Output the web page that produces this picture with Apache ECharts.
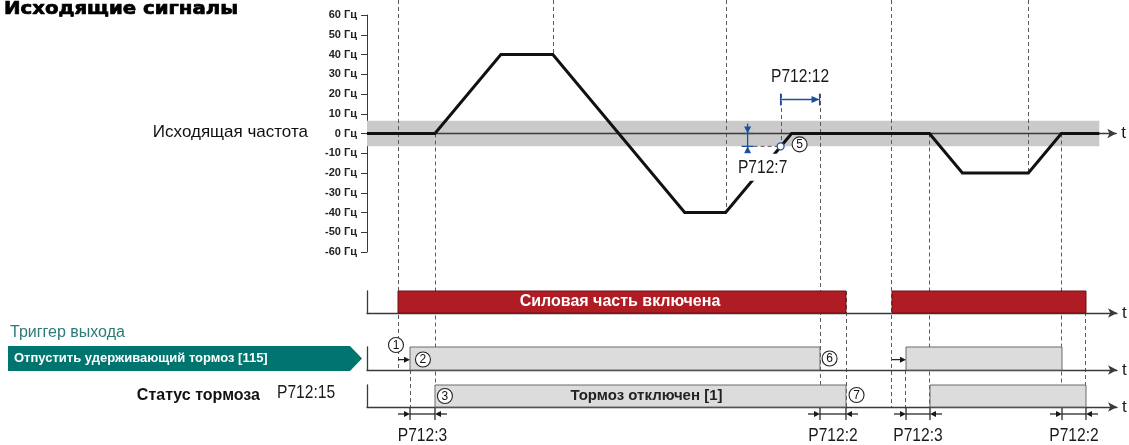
<!DOCTYPE html>
<html lang="ru">
<head>
<meta charset="utf-8">
<title>Исходящие сигналы</title>
<script src="https://cdn.jsdelivr.net/npm/echarts@6/dist/echarts.min.js"></script>
<style>
html,body{margin:0;padding:0;background:#ffffff;}
#chart{width:1129px;height:445px;}
</style>
</head>
<body>
<div id="chart"></div>
<script>
// ---- signal data: time on one shared axis (arbitrary units) ----
const timeMax = 75.0;
const freqTime = [0, 6.8, 13.4, 18.6, 31.8, 35.9, 42.5, 56.3, 59.6, 66.2, 69.5, 73.3];
const freqHz   = [0, 0, 40, 40, -40, -40, 0, 0, -20, -20, 0, 0];
const freqMin = -60, freqMax = 60, freqStep = 10;
const freqUnit = 'Гц';
const stopThresholdHz = 6.5;   // P712:7 window around 0 Hz
const stopDetectT = 41.4;      // output frequency enters the P712:7 window
const stopHoldEndT = 45.3;     // P712:12 elapsed
const bandEndT = 73.3;

const powerOn    = [[3.1, 47.9], [52.5, 71.9]];
const releaseOut = [[4.3, 45.3], [53.9, 69.5]];
const brakeOpen  = [[6.8, 47.9], [56.3, 71.9]];
const releaseCmdT = [3.1, 52.5];
const timings     = [[4.3, 6.8], [45.3, 47.9], [53.9, 56.3], [69.5, 71.9]];
const timingNames = ['P712:3', 'P712:2', 'P712:3', 'P712:2'];

// ---- layout ----
const LEFT = 367, RIGHT = 1129 - 367 - 750;
const LANES = {
  freq:  {top: 15,  height: 237},
  power: {top: 291, height: 22},
  trig:  {top: 347, height: 23},
  brake: {top: 385, height: 22},
  meas:  {top: 408, height: 12}
};
const laneOrder = ['freq', 'power', 'trig', 'brake', 'meas'];
const gi = k => laneOrder.indexOf(k);

const INK = '#1a1a1a';
const AXIS = '#3a3a3a';
const BLUE = '#1f4f9c';
const GUIDE = '#5a5a5a';
const RED = '#b01c23';
const BOX = '#dcdcdc';
const FONT = '"Liberation Sans", Arial, sans-serif';

function laneY(api, lane, v) {
  if (lane === 'top') return 0;
  if (lane === 'freq') return api.coord([0, v])[1];
  const L = LANES[lane];
  return L.top + L.height * (1 - v);
}
function head(tx, ty, dx, dy, len, half, color) {
  const nx = -dy, ny = dx, bx = tx - dx * len, by = ty - dy * len;
  return {type: 'polygon', shape: {points: [[tx, ty], [bx + nx * half, by + ny * half], [bx - nx * half, by - ny * half]]}, style: {fill: color}};
}
function seg(x1, y1, x2, y2, color, w, dash) {
  return {type: 'line', shape: {x1, y1, x2, y2}, style: {stroke: color, lineWidth: w || 1, lineDash: dash || null}};
}
function narrow(x, y, text, extra) {
  return {type: 'text', x, y, scaleX: 0.82, z2: 10,
    style: Object.assign({text, fontSize: 19, fontFamily: FONT, fill: INK, align: 'center', verticalAlign: 'middle'}, extra || {})};
}
function measure(text, font) {
  const c = document.createElement('canvas').getContext('2d');
  c.font = font; return c.measureText(text).width;
}

// dashed event guides: time and the two levels they connect
const guides = [
  {t: releaseCmdT[0],  a: ['top', 0],    b: ['trig', 0]},
  {t: releaseOut[0][0], a: ['trig', 0],  b: ['brake', 0]},
  {t: brakeOpen[0][0], a: ['freq', 0],   b: ['brake', 0]},
  {t: freqTime[3],     a: ['top', 0],    b: ['freq', freqHz[3]]},
  {t: freqTime[5],     a: ['top', 0],    b: ['freq', freqHz[5]]},
  {t: stopDetectT,     a: ['freq', 20],  b: ['freq', -stopThresholdHz]},
  {t: stopHoldEndT,    a: ['freq', 20],  b: ['brake', 0]},
  {t: powerOn[0][1],   a: ['power', 1],  b: ['brake', 0]},
  {t: releaseCmdT[1],  a: ['top', 0],    b: ['brake', 0]},
  {t: releaseOut[1][0], a: ['trig', 0],  b: ['brake', 0]},
  {t: brakeOpen[1][0], a: ['freq', 0],   b: ['brake', 0]},
  {t: freqTime[9],     a: ['top', 0],    b: ['freq', freqHz[9]]},
  {t: releaseOut[1][1], a: ['freq', 0],  b: ['brake', 0]},
  {t: powerOn[1][1],   a: ['power', 1],  b: ['brake', 0]}
];

// circled step numbers, anchored to their events
const notes = [
  {n: '1', t: releaseCmdT[0],    lane: 'trig',  v: 1,    dx: -2, dy: -2},
  {n: '2', t: releaseOut[0][0],  lane: 'trig',  v: 0.5,  dx: 13, dy: 1},
  {n: '3', t: brakeOpen[0][0],   lane: 'brake', v: 0.5,  dx: 10, dy: 0},
  {n: '5', t: stopDetectT,       lane: 'freq',  v: -stopThresholdHz, dx: 19, dy: -2},
  {n: '6', t: releaseOut[0][1],  lane: 'trig',  v: 0.5,  dx: 10, dy: 0},
  {n: '7', t: powerOn[0][1],     lane: 'brake', v: 0.5,  dx: 11, dy: -1}
];

const chart = echarts.init(document.getElementById('chart'));

const grids = laneOrder.map(k => ({left: LEFT, right: RIGHT, top: LANES[k].top, height: LANES[k].height}));

const xAxes = laneOrder.map((k, i) => ({
  type: 'value', gridIndex: i, min: 0, max: timeMax, z: 3,
  axisLine: {show: k !== 'meas', onZero: true, symbol: ['none', 'arrow'], symbolSize: [7, 9],
    lineStyle: {color: AXIS, width: 1.3}},
  axisTick: {show: false}, axisLabel: {show: false}, splitLine: {show: false},
  name: k !== 'meas' ? 't' : '', nameLocation: 'end', nameGap: 5,
  nameTextStyle: {fontSize: 17, fontFamily: FONT, color: INK, align: 'left', verticalAlign: 'middle', padding: [10, 0, 0, 0]}
}));

const yAxes = laneOrder.map((k, i) => k === 'freq' ? {
  type: 'value', gridIndex: i, min: freqMin, max: freqMax, interval: freqStep,
  axisLine: {show: true, onZero: false, lineStyle: {color: AXIS, width: 1}},
  axisTick: {show: true, length: 6, lineStyle: {color: AXIS}},
  axisLabel: {formatter: v => v + ' ' + freqUnit, fontSize: 11, fontWeight: 'bold', fontFamily: FONT, color: '#222', margin: 10},
  splitLine: {show: false}
} : {
  type: 'value', gridIndex: i, min: 0, max: 1,
  axisLine: {show: k !== 'meas', onZero: false, lineStyle: {color: AXIS, width: 1.3}},
  axisTick: {show: false}, axisLabel: {show: false}, splitLine: {show: false}
});

function boxSeries(lane, data, fill, stroke, labels, labelStyle) {
  return {
    type: 'custom', xAxisIndex: gi(lane), yAxisIndex: gi(lane), z: 4,
    data: data.map(d => [d[0], d[1]]),
    renderItem: (params, api) => {
      const p0 = api.coord([api.value(0), 1]);
      const p1 = api.coord([api.value(1), 0]);
      const ch = [{type: 'rect', shape: {x: p0[0], y: p0[1], width: p1[0] - p0[0], height: p1[1] - p0[1]},
        style: {fill, stroke, lineWidth: 1}}];
      const txt = labels[params.dataIndex];
      if (txt) ch.push({type: 'text', x: (p0[0] + p1[0]) / 2 + (labelStyle.dx || 0), y: (p0[1] + p1[1]) / 2,
        style: Object.assign({text: txt, align: 'center', verticalAlign: 'middle', fontFamily: FONT, fontWeight: 'bold'}, labelStyle.style)});
      return {type: 'group', children: ch};
    }
  };
}

const series = [
  // P712:7 window around zero frequency
  {
    type: 'custom', xAxisIndex: 0, yAxisIndex: 0, z: 1, silent: true,
    data: [[0, bandEndT]],
    renderItem: (params, api) => {
      const p0 = api.coord([api.value(0), stopThresholdHz]);
      const p1 = api.coord([api.value(1), -stopThresholdHz]);
      return {type: 'rect', shape: {x: p0[0], y: p0[1], width: p1[0] - p0[0], height: p1[1] - p0[1]}, style: {fill: '#c9cac9'}};
    }
  },
  // dashed event guides
  {
    type: 'custom', xAxisIndex: 0, yAxisIndex: 0, z: 2, clip: false, silent: true,
    data: guides.map(g => [g.t, 0]),
    renderItem: (params, api) => {
      const g = guides[params.dataIndex];
      const x = Math.round(api.coord([g.t, 0])[0]) + 0.5;
      return seg(x, laneY(api, g.a[0], g.a[1]), x, laneY(api, g.b[0], g.b[1]), GUIDE, 1, [4, 3]);
    }
  },
  // output frequency
  {
    type: 'line', xAxisIndex: 0, yAxisIndex: 0, z: 5, symbol: 'none', silent: true,
    data: freqTime.map((t, i) => [t, freqHz[i]]),
    lineStyle: {color: '#111', width: 3, join: 'miter'}
  },
  // P712:12 and P712:7 annotations
  {
    type: 'custom', xAxisIndex: 0, yAxisIndex: 0, z: 6, clip: false, silent: true,
    data: [[stopDetectT, -stopThresholdHz]],
    renderItem: (params, api) => {
      const pc = api.coord([stopDetectT, -stopThresholdHz]);
      const pe = api.coord([stopHoldEndT, 0]);
      const y0 = api.coord([0, 0])[1];
      const y1 = pc[1];
      const xa = pc[0], xb = pe[0];
      const ym = y0 - 34;
      const xv = xa - 33;
      const ch = [
        // P712:12 delay bracket
        seg(xa, ym - 6, xa, ym + 6, BLUE, 1.3),
        seg(xb, ym - 6, xb, ym + 6, BLUE, 1.3),
        seg(xa, ym, xb - 6, ym, BLUE, 1.3),
        head(xb, ym, 1, 0, 8, 3.5, BLUE),
        narrow((xa + xb) / 2, ym - 23, 'P712:12'),
        // P712:7 threshold bracket
        seg(xv - 6, y0, xv + 6, y0, BLUE, 1.3),
        seg(xv - 6, y1, xv + 6, y1, BLUE, 1.3),
        seg(xv, y0 - 10, xv, y1 + 6, BLUE, 1.3),
        head(xv, y0, 0, 1, 7, 3.5, BLUE),
        head(xv, y1, 0, -1, 7, 3.5, BLUE),
        seg(xv + 6, y1, xa - 3, y1, GUIDE, 1, [4, 3]),
        narrow(xv + 15, y1 + 21, 'P712:7', {backgroundColor: '#ffffff', padding: [4, 1]}),
        {type: 'circle', shape: {cx: xa, cy: y1, r: 3.5}, style: {fill: '#fff', stroke: BLUE, lineWidth: 1.3}, z2: 11}
      ];
      return {type: 'group', children: ch};
    }
  },
  // power section on
  boxSeries('power', powerOn, RED, '#6e1015', ['Силовая часть включена', ''],
    {dx: -2, style: {fill: '#ffffff', fontSize: 16}}),
  // release holding brake output
  boxSeries('trig', releaseOut, BOX, '#6a6a6a', ['', ''], {style: {}}),
  // brake status
  boxSeries('brake', brakeOpen, BOX, '#6a6a6a', ['Тормоз отключен [1]', ''],
    {dx: 6, style: {fill: '#222', fontSize: 15}}),
  // command-to-output arrows
  {
    type: 'custom', xAxisIndex: gi('trig'), yAxisIndex: gi('trig'), z: 6, silent: true,
    data: releaseCmdT.map((t, i) => [t, releaseOut[i][0]]),
    renderItem: (params, api) => {
      const p0 = api.coord([api.value(0), 0.45]);
      const p1 = api.coord([api.value(1), 0.45]);
      return {type: 'group', children: [seg(p0[0], p0[1], p1[0] - 4, p1[1], INK, 1.2), head(p1[0], p1[1], 1, 0, 6, 3, INK)]};
    }
  },
  // timing parameters P712:3 / P712:2
  {
    type: 'custom', xAxisIndex: gi('meas'), yAxisIndex: gi('meas'), z: 6, clip: false, silent: true,
    data: timings.map(d => [d[0], d[1]]),
    renderItem: (params, api) => {
      const a = api.coord([api.value(0), 0.5]);
      const b = api.coord([api.value(1), 0.5]);
      const yt = api.coord([0, 1])[1], yb = api.coord([0, 0])[1];
      const y = a[1];
      return {type: 'group', children: [
        seg(a[0], yt, a[0], yb, INK, 1.2),
        seg(b[0], yt, b[0], yb, INK, 1.2),
        seg(a[0], y, b[0], y, INK, 1.2),
        seg(a[0] - 12, y, a[0] - 4, y, INK, 1.2),
        head(a[0], y, 1, 0, 6, 3, INK),
        seg(b[0] + 12, y, b[0] + 4, y, INK, 1.2),
        head(b[0], y, -1, 0, 6, 3, INK),
        narrow((a[0] + b[0]) / 2, yb + 16, timingNames[params.dataIndex])
      ]};
    }
  },
  // circled step numbers
  {
    type: 'custom', xAxisIndex: 0, yAxisIndex: 0, z: 7, clip: false, silent: true,
    data: notes.map(n => [n.t, 0]),
    renderItem: (params, api) => {
      const n = notes[params.dataIndex];
      const cx = api.coord([n.t, 0])[0] + n.dx;
      const cy = laneY(api, n.lane, n.v) + n.dy;
      return {type: 'group', children: [
        {type: 'circle', shape: {cx, cy, r: 7.5}, style: {fill: '#fff', stroke: '#222', lineWidth: 1.1}},
        {type: 'text', x: cx, y: cy + 0.5, style: {text: n.n, fontSize: 12, fontFamily: FONT, fill: '#111', align: 'center', verticalAlign: 'middle'}}
      ]};
    }
  }
];

// left-hand captions
const titleText = 'Исходящие сигналы';
const titleFont = 'bold 17px "DejaVu Sans", sans-serif';
const titleScale = 234 / measure(titleText, titleFont);
const tl = LANES.trig;
const graphic = [
  {type: 'text', x: 4, y: 10, scaleX: titleScale,
    style: {text: titleText, font: titleFont, fill: '#000', stroke: '#000', lineWidth: 0.7, align: 'left', verticalAlign: 'middle'}},
  {type: 'text', x: 308, y: 132, style: {text: 'Исходящая частота', fontSize: 17, fontFamily: FONT, fill: '#111', align: 'right', verticalAlign: 'middle'}},
  {type: 'text', x: 10, y: 333, style: {text: 'Триггер выхода', fontSize: 16, fontFamily: FONT, fill: '#2b7b78', align: 'left', verticalAlign: 'middle'}},
  {type: 'polygon', shape: {points: [[8, tl.top - 1], [350, tl.top - 1], [362, tl.top + tl.height / 2], [350, tl.top + tl.height + 1], [8, tl.top + tl.height + 1]]},
    style: {fill: '#00746e'}},
  {type: 'text', x: 14, y: tl.top + tl.height / 2, style: {text: 'Отпустить удерживающий тормоз [115]', fontSize: 13, fontWeight: 'bold', fontFamily: FONT, fill: '#ffffff', align: 'left', verticalAlign: 'middle'}},
  {type: 'text', x: 260, y: 396, style: {text: 'Статус тормоза', fontSize: 16, fontWeight: 'bold', fontFamily: FONT, fill: '#111', align: 'right', verticalAlign: 'middle'}},
  {type: 'text', x: 277, y: 393, scaleX: 0.82, style: {text: 'P712:15', fontSize: 19, fontFamily: FONT, fill: INK, align: 'left', verticalAlign: 'middle'}}
];

chart.setOption({
  animation: false,
  backgroundColor: '#ffffff',
  grid: grids,
  xAxis: xAxes,
  yAxis: yAxes,
  series,
  graphic
});
</script>
</body>
</html>
